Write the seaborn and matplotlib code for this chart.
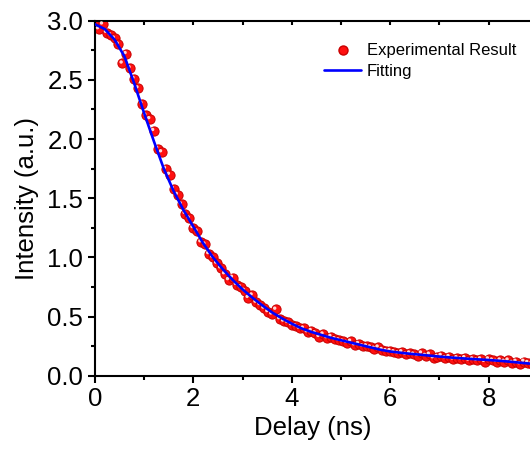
import numpy as np
import pandas as pd
import matplotlib
matplotlib.use("Agg")
import matplotlib.pyplot as plt
import seaborn as sns
from matplotlib.transforms import offset_copy
from matplotlib.ticker import MultipleLocator
from matplotlib.lines import Line2D

delay = [0.00, 0.08, 0.16, 0.24, 0.32, 0.40, 0.48, 0.56, 0.64, 0.72,
         0.80, 0.88, 0.96, 1.04, 1.12, 1.20, 1.28, 1.36, 1.44, 1.52,
         1.60, 1.68, 1.76, 1.84, 1.92, 2.00, 2.08, 2.16, 2.24, 2.32,
         2.40, 2.48, 2.56, 2.64, 2.72, 2.80, 2.88, 2.96, 3.04, 3.12,
         3.20, 3.28, 3.36, 3.44, 3.52, 3.60, 3.68, 3.76, 3.84, 3.92,
         4.00, 4.08, 4.16, 4.24, 4.32, 4.40, 4.48, 4.56, 4.64, 4.72,
         4.80, 4.88, 4.96, 5.04, 5.12, 5.20, 5.28, 5.36, 5.44, 5.52,
         5.60, 5.68, 5.76, 5.84, 5.92, 6.00, 6.08, 6.16, 6.24, 6.32,
         6.40, 6.48, 6.56, 6.64, 6.72, 6.80, 6.88, 6.96, 7.04, 7.12,
         7.20, 7.28, 7.36, 7.44, 7.52, 7.60, 7.68, 7.76, 7.84, 7.92,
         8.00, 8.08, 8.16, 8.24, 8.32, 8.40, 8.48, 8.56, 8.64, 8.72,
         8.80, 8.88]
intensity = [2.96, 2.93, 2.97, 2.90, 2.88, 2.85, 2.80, 2.64, 2.72, 2.60,
             2.51, 2.43, 2.30, 2.20, 2.17, 2.07, 1.92, 1.89, 1.75, 1.70,
             1.58, 1.53, 1.45, 1.37, 1.33, 1.25, 1.22, 1.13, 1.11, 1.03,
             1.00, 0.95, 0.91, 0.86, 0.81, 0.83, 0.77, 0.75, 0.72, 0.66,
             0.68, 0.62, 0.60, 0.57, 0.54, 0.52, 0.56, 0.48, 0.46, 0.45,
             0.43, 0.42, 0.40, 0.40, 0.37, 0.38, 0.36, 0.33, 0.35, 0.32,
             0.33, 0.31, 0.30, 0.29, 0.28, 0.29, 0.26, 0.27, 0.25, 0.25,
             0.24, 0.23, 0.24, 0.22, 0.21, 0.21, 0.20, 0.19, 0.20, 0.18,
             0.19, 0.18, 0.17, 0.19, 0.17, 0.18, 0.15, 0.16, 0.17, 0.15,
             0.16, 0.14, 0.15, 0.14, 0.15, 0.13, 0.14, 0.13, 0.14, 0.12,
             0.14, 0.13, 0.12, 0.13, 0.12, 0.13, 0.11, 0.12, 0.10, 0.12,
             0.11, 0.10]

# fitted curve
fit_delay = [0.0, 0.2, 0.4, 0.6, 0.8, 1.0, 1.2, 1.4, 1.6, 1.8,
             2.0, 2.2, 2.4, 2.6, 2.8, 3.0, 3.2, 3.4, 3.6, 3.8,
             4.0, 4.2, 4.4, 4.6, 4.8, 5.0, 5.2, 5.4, 5.6, 5.8,
             6.0, 6.2, 6.4, 6.6, 6.8, 7.0, 7.2, 7.4, 7.6, 7.8,
             8.0, 8.2, 8.4, 8.6, 8.8, 9.0]
fit_intensity = [2.97, 2.93, 2.84, 2.70, 2.47, 2.22, 1.98, 1.75, 1.56, 1.40,
                 1.26, 1.12, 1.00, 0.90, 0.81, 0.73, 0.66, 0.595, 0.535, 0.485,
                 0.44, 0.40, 0.37, 0.345, 0.32, 0.30, 0.28, 0.26, 0.24, 0.22,
                 0.205, 0.195, 0.186, 0.178, 0.170, 0.162, 0.155, 0.149, 0.143, 0.138,
                 0.133, 0.127, 0.120, 0.112, 0.104, 0.098]

exp_df = pd.DataFrame({"Delay": delay, "Intensity": intensity})
fit_df = pd.DataFrame({"Delay": fit_delay, "Intensity": fit_intensity})

sns.set_style("ticks")
plt.rcParams["font.family"] = ["Liberation Sans", "DejaVu Sans"]
plt.rcParams["text.color"] = "black"
plt.rcParams["axes.labelcolor"] = "black"
plt.rcParams["xtick.color"] = "black"
plt.rcParams["ytick.color"] = "black"

fig = plt.figure(figsize=(5.3, 4.5), dpi=100)
ax = fig.add_axes([0.179, 0.165, 0.821, 0.789])

# red "spheres": body plus a small highlight shifted up-left
sns.scatterplot(data=exp_df, x="Delay", y="Intensity", ax=ax, s=44,
                color="#ff1010", edgecolor="#c80000", linewidth=0.7, zorder=2)
hl = sns.scatterplot(data=exp_df, x="Delay", y="Intensity", ax=ax, s=6,
                     color="#ffd8d8", edgecolor="none", zorder=3)
hl.collections[-1].set_offset_transform(
    offset_copy(ax.transData, fig=fig, x=-1.3, y=1.3, units="dots"))

sns.lineplot(data=fit_df, x="Delay", y="Intensity", ax=ax, color="#0000ff",
             linewidth=1.9, zorder=4)

ax.set_xlim(0, 8.84)
ax.set_ylim(0, 3.0)
ax.xaxis.set_major_locator(MultipleLocator(2))
ax.xaxis.set_minor_locator(MultipleLocator(1))
ax.yaxis.set_major_locator(MultipleLocator(0.5))
ax.yaxis.set_minor_locator(MultipleLocator(0.25))
ax.yaxis.set_major_formatter(matplotlib.ticker.FormatStrFormatter("%.1f"))

for side in ["left", "bottom", "top"]:
    ax.spines[side].set_linewidth(1.5)
    ax.spines[side].set_color("black")
ax.spines["right"].set_visible(False)

ax.tick_params(which="major", direction="out", length=5, width=1.5,
               labelsize=18.5, colors="black", top=True)
ax.tick_params(which="minor", direction="out", length=3, width=1.5, top=True)
ax.tick_params(axis="x", which="both", pad=3)
# top ticks point inward
for t in ax.xaxis.get_major_ticks() + ax.xaxis.get_minor_ticks():
    t.tick2line.set_marker(3)
    t.tick2line.set_markersize(3)

ax.set_xlabel("Delay (ns)", fontsize=18.5, labelpad=4, color="black")
ax.set_ylabel("Intensity (a.u.)", fontsize=18.5, labelpad=6, color="black")

handles = [Line2D([], [], linestyle="none", marker="o", markersize=6.5,
                  markerfacecolor="#ff1010", markeredgecolor="#c80000"),
           Line2D([], [], color="#0000ff", linewidth=1.9)]
ax.legend(handles, ["Experimental Result", "Fitting"], frameon=False,
          fontsize=12, loc="upper left", bbox_to_anchor=(0.596, 0.922),
          bbox_transform=fig.transFigure, handlelength=2.2,
          handletextpad=0.35, labelspacing=0.32, borderpad=0)

fig.savefig("out.png", dpi=100)
